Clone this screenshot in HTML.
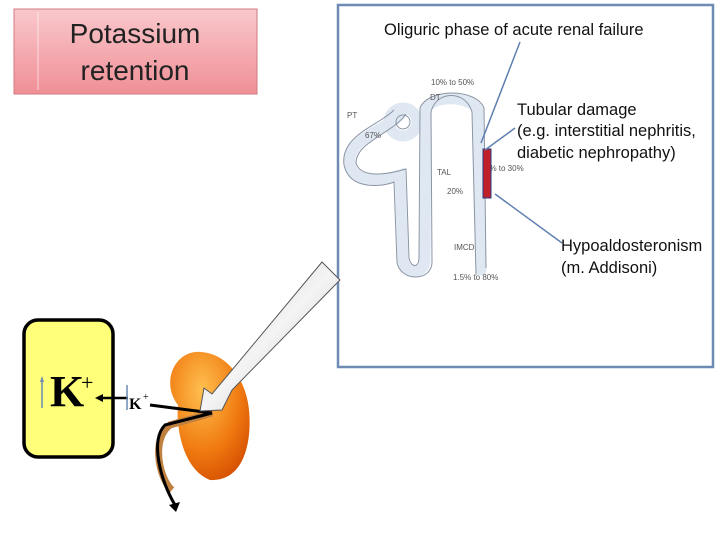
<!DOCTYPE html>
<html><head><style>body{margin:0;background:#fff}svg{display:block}</style></head><body>
<svg width="720" height="540" viewBox="0 0 720 540" xmlns="http://www.w3.org/2000/svg" font-family="Liberation Sans, sans-serif">
<defs>
<linearGradient id="pk" x1="0" y1="0" x2="0" y2="1"><stop offset="0" stop-color="#f9c8cc"/><stop offset="1" stop-color="#f08f96"/></linearGradient>
<radialGradient id="kd" cx="0.4" cy="0.3" r="0.8"><stop offset="0" stop-color="#ffc050"/><stop offset="0.6" stop-color="#f07a10"/><stop offset="1" stop-color="#d24a00"/></radialGradient>
<linearGradient id="ga" x1="0" y1="0" x2="1" y2="1"><stop offset="0" stop-color="#c8c8c8"/><stop offset="0.5" stop-color="#f4f4f4"/><stop offset="1" stop-color="#b8b8b8"/></linearGradient>
</defs>
<rect x="14" y="9" width="243" height="85" fill="url(#pk)" stroke="#d07a80"/>
<line x1="38" y1="12" x2="38" y2="90" stroke="#fff" stroke-opacity="0.6"/>
<text x="135" y="43" font-size="28" text-anchor="middle" fill="#222">Potassium</text>
<text x="135" y="80" font-size="28" text-anchor="middle" fill="#222">retention</text>
<rect x="338" y="5" width="375" height="362" fill="#fff" stroke="#6d8bb3" stroke-width="2.5"/>
<text x="384" y="35" font-size="16.5" fill="#111">Oliguric phase of acute renal failure</text>
<g fill="none" stroke="#dfe8f2" stroke-width="11" stroke-linecap="round">
<path d="M400 115 C385 130 345 140 350 165 C355 185 385 180 400 175 L403 260 C405 275 425 275 425 260 L426 110 C430 95 470 95 478 110 L481 270"/>
<circle cx="403" cy="122" r="14"/>
</g>
<g fill="none" stroke="#8a95a5" stroke-width="1">
<path d="M394 110 C380 125 340 135 344 165 C350 192 385 186 394 182 L397 262 C400 282 432 282 432 262 L431 112 C436 90 466 90 472 112 L476 275"/>
<path d="M406 114 C392 134 356 142 356 163 C360 177 382 176 406 169 L409 258 C411 268 419 268 419 258 L420 108 C428 88 476 88 484 108 L486 268"/>
<circle cx="403" cy="122" r="7"/>
</g>
<g font-size="8" fill="#555"><text x="431" y="85">10% to 50%</text><text x="430" y="100">DT</text><text x="347" y="118">PT</text><text x="365" y="138">67%</text><text x="437" y="175">TAL</text><text x="447" y="194">20%</text><text x="485" y="171">5% to 30%</text><text x="454" y="250">IMCD</text><text x="453" y="280">1.5% to 80%</text></g>
<rect x="483" y="149" width="8" height="49" fill="#c0202a" stroke="#2a3a80"/>
<g stroke="#5f7fb0" stroke-width="1.5"><line x1="520" y1="42" x2="481" y2="143"/><line x1="515" y1="128" x2="485" y2="150"/><line x1="562" y1="243" x2="495" y2="194"/></g>
<g font-size="16.5" fill="#111"><text x="517" y="115">Tubular damage</text><text x="517" y="136">(e.g. interstitial nephritis,</text><text x="517" y="158">diabetic nephropathy)</text><text x="561" y="251">Hypoaldosteronism</text><text x="561" y="273">(m. Addisoni)</text></g>
<path d="M195 352 C172 355 162 385 178 405 C176 420 180 468 210 480 C245 482 252 440 249 410 C246 378 225 350 195 352 Z" fill="url(#kd)"/>
<path d="M212 413 L170 425 C150 440 160 480 172 490" fill="none" stroke="#c08040" stroke-width="7"/>
<path d="M150 405 L212 413 L165 425 C150 440 160 480 175 505" fill="none" stroke="#000" stroke-width="3"/>
<polygon points="169,505 180,502 176,512" fill="#000"/>
<polygon points="322,262 340,280 232,390 222,410 200,411 204,388 212,394" fill="url(#ga)" stroke="#555"/>
<rect x="24" y="320" width="89" height="137" rx="14" fill="#ffff7a" stroke="#000" stroke-width="3.5"/>
<text x="50" y="406" font-size="44" font-weight="bold" font-family="Liberation Serif, serif">K</text>
<text x="81" y="390" font-size="22" font-family="Liberation Serif, serif">+</text>
<line x1="42" y1="408" x2="42" y2="380" stroke="#6a8ab0" stroke-width="1.5"/><polygon points="40,382 44,382 42,376" fill="#6a8ab0"/>
<line x1="100" y1="398" x2="128" y2="398" stroke="#000" stroke-width="2.5"/><polygon points="95,398 103,394 103,402" fill="#000"/>
<line x1="127" y1="410" x2="127" y2="385" stroke="#6a8ab0" stroke-width="1.5"/>
<text x="129" y="409" font-size="16" font-weight="bold" font-family="Liberation Serif, serif">K</text>
<text x="143" y="400" font-size="10" font-family="Liberation Serif, serif">+</text>
</svg>
</body></html>
